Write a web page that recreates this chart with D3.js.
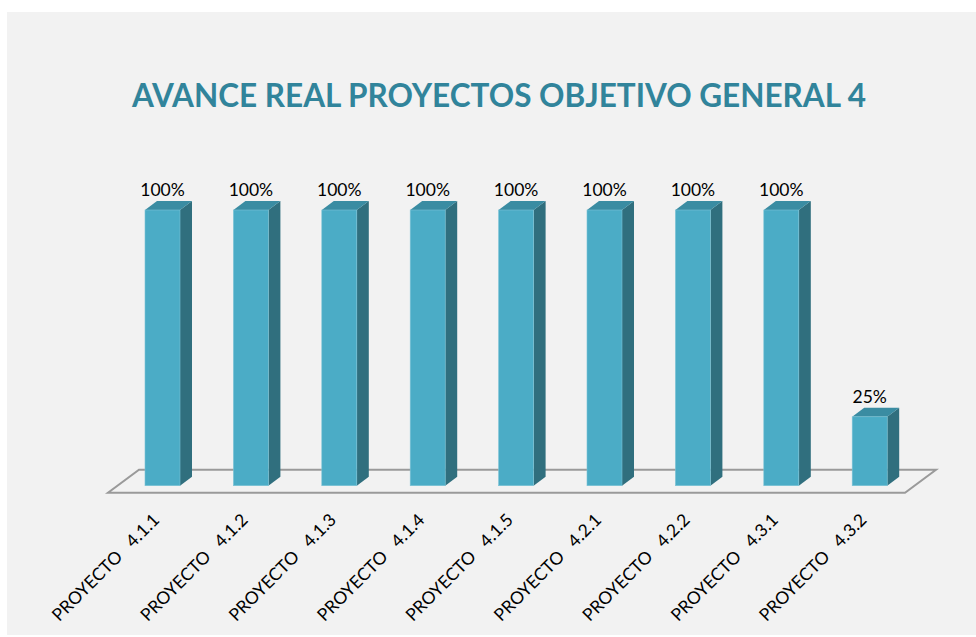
<!DOCTYPE html>
<html>
<head>
<meta charset="utf-8">
<script src="https://cdn.jsdelivr.net/npm/d3@7"></script>
<style>
  body { margin: 0; background: #fff; }
  svg { display: block; }
</style>
</head>
<body>
<svg width="976" height="637"></svg>
<script>
// The data
var categories = ["PROYECTO   4.1.1", "PROYECTO   4.1.2", "PROYECTO   4.1.3", "PROYECTO   4.1.4",
  "PROYECTO   4.1.5", "PROYECTO   4.2.1", "PROYECTO   4.2.2", "PROYECTO   4.3.1", "PROYECTO   4.3.2"];
var values = [1, 1, 1, 1, 1, 1, 1, 1, 0.25];
var valueLabels = ["100%", "100%", "100%", "100%", "100%", "100%", "100%", "100%", "25%"];

var svg = d3.select("svg"),
  width = +svg.attr("width"),
  height = +svg.attr("height");

// background panel
svg.append("rect")
  .attr("x", 7).attr("y", 12)
  .attr("width", width - 7).attr("height", 623)
  .attr("fill", "#f2f2f2");

// Title
svg.append("text")
  .attr("x", 499).attr("y", 107)
  .attr("text-anchor", "middle")
  .attr("font-family", "Lato, 'Open Sans', sans-serif")
  .attr("font-weight", "bold")
  .attr("font-size", 31.5)
  .attr("fill", "#31849b")
  .text("AVANCE REAL PROYECTOS OBJETIVO GENERAL 4");

// Scales
var x = d3.scaleBand()
  .domain(categories)
  .range([118.3, 913.9])
  .paddingInner(0.604)
  .paddingOuter(0.302);

var y = d3.scaleLinear()
  .domain([0, 1])
  .range([485.7, 210]);

var dx = 12, dy = 9;   // bar depth
var w = x.bandwidth();

// Floor (3D plane)
var fl = { x0: 108, x1: 905, yf: 492.7, ddx: 31, ddy: 23 };
svg.append("path")
  .attr("d", "M" + fl.x0 + "," + fl.yf +
    "L" + fl.x1 + "," + fl.yf +
    "L" + (fl.x1 + fl.ddx) + "," + (fl.yf - fl.ddy) +
    "L" + (fl.x0 + fl.ddx) + "," + (fl.yf - fl.ddy) + "Z")
  .attr("fill", "none")
  .attr("stroke", "#9a9a9a")
  .attr("stroke-width", 2);

// Bars
var bars = svg.append("g").selectAll("g")
  .data(values)
  .enter().append("g");

// side face
bars.append("path")
  .attr("d", function (d, i) {
    var x0 = x(categories[i]) + w, yt = y(d), yb = y(0);
    return "M" + x0 + "," + yt + "L" + (x0 + dx) + "," + (yt - dy) +
      "L" + (x0 + dx) + "," + (yb - dy) + "L" + x0 + "," + yb + "Z";
  })
  .attr("fill", "#306f7e");

// top face
bars.append("path")
  .attr("d", function (d, i) {
    var x0 = x(categories[i]), yt = y(d);
    return "M" + x0 + "," + yt + "L" + (x0 + dx) + "," + (yt - dy) +
      "L" + (x0 + w + dx) + "," + (yt - dy) + "L" + (x0 + w) + "," + yt + "Z";
  })
  .attr("fill", "#3a8ca2");

// front face
bars.append("rect")
  .attr("x", function (d, i) { return x(categories[i]); })
  .attr("y", function (d) { return y(d); })
  .attr("width", w)
  .attr("height", function (d) { return y(0) - y(d); })
  .attr("fill", "#4bacc6")
  .attr("stroke", "#7cc3d6")
  .attr("stroke-width", 0.6);

// value labels
bars.append("text")
  .attr("x", function (d, i) { return x(categories[i]) + w / 2; })
  .attr("y", function (d) { return y(d) - 14; })
  .attr("text-anchor", "middle")
  .attr("font-family", "Lato, 'Open Sans', sans-serif")
  .attr("font-size", 17.5)
  .attr("fill", "#000")
  .text(function (d, i) { return valueLabels[i]; });

// category labels
svg.append("g").selectAll("text")
  .data(categories)
  .enter().append("text")
  .attr("transform", function (d) {
    return "translate(" + (x(d) + w / 2 - 2) + ",521) rotate(-45)";
  })
  .attr("text-anchor", "end")
  .attr("font-family", "Lato, 'Open Sans', sans-serif")
  .attr("font-size", 17.5)
  .attr("fill", "#000")
  .attr("xml:space", "preserve")
  .style("white-space", "pre")
  .text(function (d) { return d; });
</script>
</body>
</html>
